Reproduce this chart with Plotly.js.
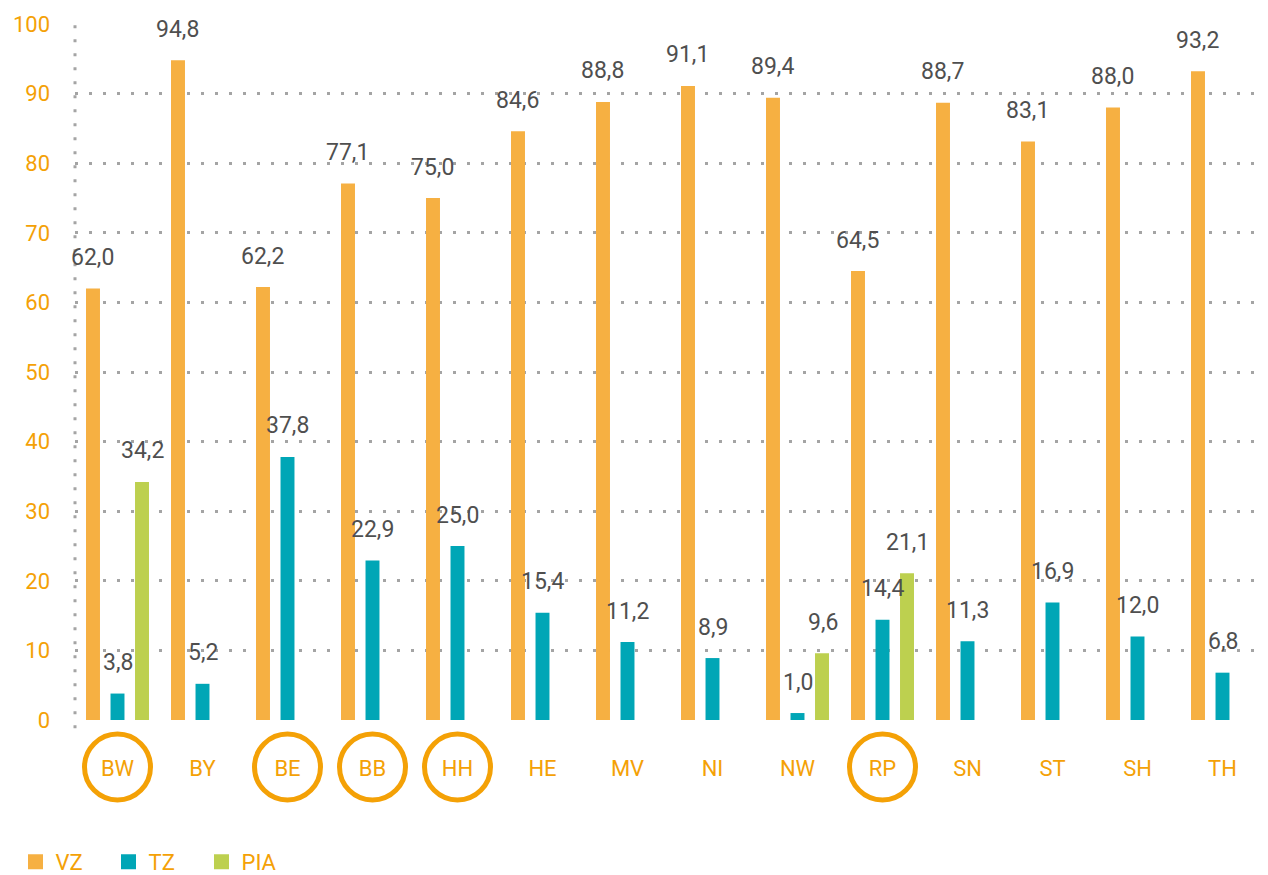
<!DOCTYPE html>
<html>
<head>
<meta charset="utf-8">
<script src="https://cdn.plot.ly/plotly-3.0.1.min.js"></script>
<style>html,body{margin:0;padding:0;background:#fff;}#chart{width:1268px;height:875px;}</style>
</head>
<body>
<div id="chart"></div>
<script>
const categories = ["BW","BY","BE","BB","HH","HE","MV","NI","NW","RP","SN","ST","SH","TH"];
const vzValues  = [62.0, 94.8, 62.2, 77.1, 75.0, 84.6, 88.8, 91.1, 89.4, 64.5, 88.7, 83.1, 88.0, 93.2];
const tzValues  = [3.8, 5.2, 37.8, 22.9, 25.0, 15.4, 11.2, 8.9, 1.0, 14.4, 11.3, 16.9, 12.0, 6.8];
const piaValues = [34.2, null, null, null, null, null, null, null, 9.6, 21.1, null, null, null, null];
const seriesNames = ["VZ", "TZ", "PIA"];
const circled = ["BW","BE","BB","HH","RP"];
const yTicks = [0,10,20,30,40,50,60,70,80,90,100];

const colors = ["#F6B042", "#00A6B6", "#BDD04F"];
const orange = "#F4A106";
const fontFam = "Roboto, 'Open Sans', sans-serif";
const fmt = v => v.toFixed(1).replace(".", ",");

const seriesValues = [vzValues, tzValues, piaValues];
const traces = seriesValues.map((vals, i) => ({
  type: "bar",
  name: seriesNames[i],
  x: categories,
  y: vals,
  marker: {color: colors[i]},
  showlegend: false,
  hoverinfo: "skip"
}));

// legend entries with larger square swatches
seriesNames.forEach((n, i) => {
  traces.push({
    type: "scatter", mode: "markers", name: n,
    x: [categories[0]], y: [null],
    marker: {symbol: "square", size: 15, color: colors[i]},
    hoverinfo: "skip", showlegend: true
  });
});

const annotations = [];
const shifts = [-25, 0, 25];
seriesValues.forEach((vals, i) => {
  vals.forEach((v, j) => {
    if (v === null) return;
    annotations.push({
      x: categories[j], y: v, xref: "x", yref: "y",
      text: fmt(v), showarrow: false,
      xshift: shifts[i], yshift: 31,
      font: {family: fontFam, size: 23, color: "#4F4F4F"}
    });
  });
});

const dotted = "3px,11px";
const shapes = [{
  type: "line", xref: "paper", yref: "paper",
  x0: 0, x1: 0, y0: -0.012, y1: 1.013,
  line: {color: "#A4A4A4", width: 3, dash: dotted}
}];
circled.forEach(c => {
  shapes.push({
    type: "circle", xref: "x", yref: "paper",
    xsizemode: "pixel", ysizemode: "pixel",
    xanchor: categories.indexOf(c), yanchor: -0.0675,
    x0: -33, x1: 33, y0: -33, y1: 33,
    line: {color: orange, width: 5}
  });
});

const layout = {
  width: 1268, height: 875,
  margin: {l: 75, r: 3, t: 24, b: 155, autoexpand: false},
  paper_bgcolor: "#fff", plot_bgcolor: "#fff",
  font: {family: fontFam, color: orange},
  barmode: "group",
  bargap: 0.135,
  bargroupgap: 0.43,
  showlegend: true,
  legend: {
    orientation: "h", x: -0.05, xanchor: "left", y: -0.204, yanchor: "middle",
    font: {family: fontFam, size: 22, color: orange},
    entrywidth: 48,
    itemclick: false, itemdoubleclick: false
  },
  xaxis: {
    type: "category",
    range: [-0.5, categories.length - 0.5],
    showgrid: false, zeroline: false, showline: false, ticks: "",
    tickfont: {family: fontFam, size: 22, color: orange},
    ticklabelstandoff: 33,
    fixedrange: true
  },
  yaxis: {
    range: [0, 100],
    tickvals: yTicks,
    ticktext: yTicks.map(String),
    showgrid: true, gridcolor: "#A4A4A4", gridwidth: 3, griddash: dotted,
    zeroline: false, showline: false, ticks: "",
    tickfont: {family: fontFam, size: 22, color: orange},
    ticklabelstandoff: 24,
    fixedrange: true
  },
  shapes: shapes,
  annotations: annotations
};

Plotly.newPlot("chart", traces, layout, {displayModeBar: false, staticPlot: true});
</script>
</body>
</html>
